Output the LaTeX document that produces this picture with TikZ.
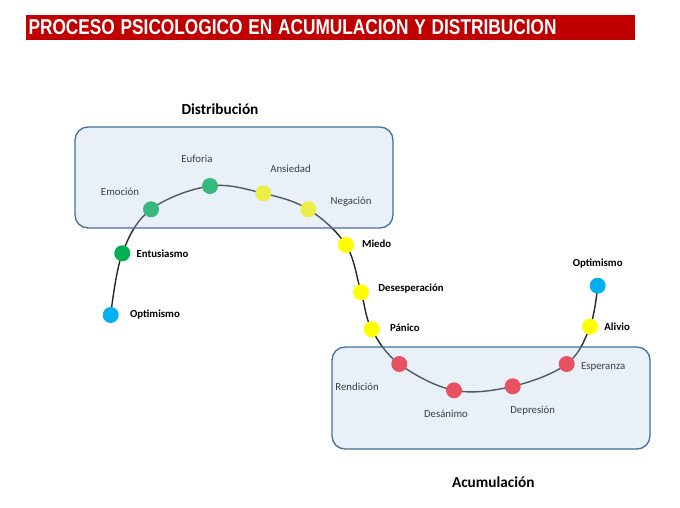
\documentclass[tikz,border=0pt]{standalone}
\usepackage{fontspec}
\usepackage{graphicx}
\setmainfont{Carlito}
\newfontfamily\titlefont{Liberation Sans}
\usetikzlibrary{positioning,backgrounds}

\definecolor{titlered}{HTML}{C00000}
\definecolor{zonefill}{RGB}{185,205,232}
\definecolor{zoneline}{HTML}{41719C}
\definecolor{dotgreen}{HTML}{00B050}
\definecolor{dotyellow}{HTML}{FFFF00}
\definecolor{dotred}{RGB}{250,30,40}
\definecolor{dotblue}{HTML}{00B0F0}

\tikzset{
  dot/.style={circle, minimum size=16pt, inner sep=0pt},
  lbl/.style={inner sep=0pt, font=\fontsize{10.8}{13}\selectfont},
  boldlbl/.style={inner sep=0pt, font=\fontsize{10.8}{13}\selectfont\bfseries},
  head/.style={inner sep=0pt, font=\fontsize{15.3}{18}\selectfont\bfseries},
  curve/.style={line width=1.4pt, black!85},
  zone/.style={draw=zoneline, line width=1.3pt, fill=zonefill, fill opacity=0.3,
    draw opacity=1, rounded corners=13pt},
}

\begin{document}
\begin{tikzpicture}[x=1pt,y=-1pt]

  \useasboundingbox (0,0) rectangle (680,507);

  % Title

  \node[fill=titlered, text=white, anchor=north west, minimum height=24.3pt,
    text width=604.4pt, align=left, inner xsep=2.3pt, inner ysep=0pt] (title) at (26,15)
    {\resizebox{528pt}{15pt}{\titlefont\bfseries PROCESO PSICOLOGICO EN ACUMULACION Y DISTRIBUCION}};

  % Dots

  \node[dot,fill=dotblue] (opt_l) at (110.7,315) {};
  \node[dot,fill=dotgreen] (ent) at (122.3,253.3) {};
  \node[dot,fill=dotgreen] (emo) at (151,209.3) {};
  \node[dot,fill=dotgreen] (euf) at (210,186) {};
  \node[dot,fill=dotyellow] (ans) at (263.3,193.3) {};
  \node[dot,fill=dotyellow] (neg) at (308.3,209.3) {};
  \node[dot,fill=dotyellow] (mie) at (346,245) {};
  \node[dot,fill=dotyellow] (des) at (361,292.3) {};
  \node[dot,fill=dotyellow] (pan) at (371.7,329.3) {};
  \node[dot,fill=dotred] (ren) at (399.3,364) {};
  \node[dot,fill=dotred] (desa) at (454,390.3) {};
  \node[dot,fill=dotred] (dep) at (512.7,386.3) {};
  \node[dot,fill=dotred] (esp) at (566.7,364) {};
  \node[dot,fill=dotyellow] (ali) at (590,326.7) {};
  \node[dot,fill=dotblue] (opt_r) at (597.7,285.7) {};

  % Labels

  \node[boldlbl,right=11pt of opt_l] (opt_l_t) {Optimismo};
  \node[boldlbl,right=6pt of ent] (ent_t) {Entusiasmo};
  \node[lbl,above left=7.5pt and 6pt of emo] (emo_t) {Emoción};
  \node[lbl,above=15pt of euf,xshift=-13pt] (euf_t) {Euforia};
  \node[lbl,above right=15pt and 1pt of ans] (ans_t) {Ansiedad};
  \node[lbl,right=14pt of neg,yshift=7.6pt] (neg_t) {Negación};
  \node[boldlbl,right=7.7pt of mie,yshift=1.7pt] (mie_t) {Miedo};
  \node[boldlbl,right=9pt of des,yshift=4pt] (des_t) {Desesperación};
  \node[boldlbl,right=10pt of pan,yshift=2pt] (pan_t) {Pánico};
  \node[lbl,below left=13pt and 14.6pt of ren] (ren_t) {Rendición};
  \node[lbl,below=11pt of desa,xshift=-8pt] (desa_t) {Desánimo};
  \node[lbl,below=11pt of dep,xshift=20pt] (dep_t) {Depresión};
  \node[lbl,right=6pt of esp,yshift=-3pt] (esp_t) {Esperanza};
  \node[boldlbl,right=6pt of ali] (ali_t) {Alivio};
  \node[boldlbl,above=9pt of opt_r] (opt_r_t) {Optimismo};

  \node[head] (dist_t) at (220,109) {Distribución};
  \node[head] (acum_t) at (493.3,482.3) {Acumulación};

  % Curve

  \begin{scope}[on background layer]
    \draw[curve] plot[smooth,tension=0.6] coordinates {(opt_l) (ent) (emo) (euf)
      (ans) (neg) (mie) (des) (pan) (ren) (desa) (dep) (esp) (ali) (opt_r)};
  \end{scope}

  % Zones

  \draw[zone] (75,127) rectangle (393,228);
  \draw[zone] (332,347) rectangle (650,449);

\end{tikzpicture}
\end{document}
